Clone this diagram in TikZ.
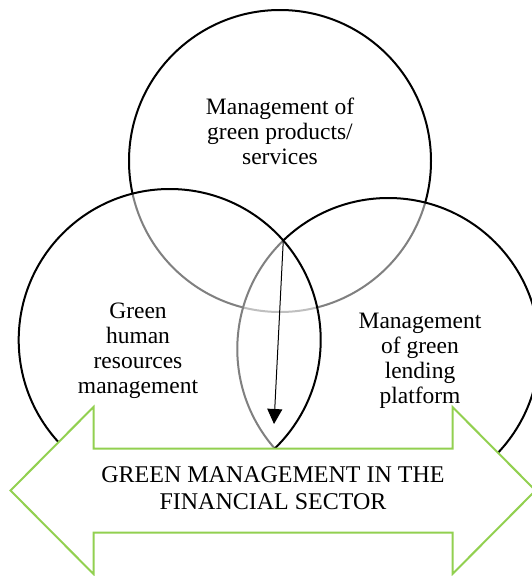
\documentclass[tikz,border=0pt]{standalone}
\usepackage{fontspec}
\setmainfont{Liberation Serif}
\usetikzlibrary{arrows.meta}
\definecolor{bannergreen}{HTML}{92D050}
\begin{document}
\begin{tikzpicture}[x=1pt,y=-1pt,
  venn/.style={circle, draw=black, line width=2pt, fill=white, fill opacity=0.5,
    draw opacity=1, minimum size=302pt, inner sep=0pt, outer sep=0pt},
  vennlabel/.style={align=center, anchor=base, inner sep=0pt,
    font=\fontsize{23.5}{24.7}\selectfont},
  bannerlabel/.style={align=center, anchor=base, inner sep=0pt,
    font=\fontsize{24}{27}\selectfont},
  banner/.style={draw=bannergreen, line width=2pt, fill=white, line join=miter},
  pointer/.style={line width=1pt, -{Triangle[length=15pt,width=15pt]}}
]
\useasboundingbox (0,0) rectangle (532,576);
% circles (order gives the grey arcs under the translucent fills)
\node[venn] (products) at (280,161) {};
\node[venn] (lending) at (388.3,349) {};
\node[venn] (hr) at (169.7,340) {};
% banner double arrow
\coordinate (ltip) at (10.5,490.5);
\coordinate (ulc) at (93.5,407);
\coordinate (stl) at (93.5,448.7);
\coordinate (str) at (452.5,448.7);
\coordinate (urc) at (452.5,407);
\coordinate (rtip) at (535.5,490.5);
\coordinate (lrc) at (452.5,574);
\coordinate (sbr) at (452.5,532.7);
\coordinate (sbl) at (93.5,532.7);
\coordinate (llc) at (93.5,574);
\draw[banner] (ltip) -- (ulc) -- (stl) -- (str) -- (urc) -- (rtip) -- (lrc)
  -- (sbr) -- (sbl) -- (llc) -- cycle;
% pointer from the lens top
\coordinate (lenstop) at (283.3,240.2);
\coordinate (pointertip) at (274,424);
\draw[pointer] (lenstop) -- (pointertip);
% labels (base anchor = baseline of the last line)
\node[vennlabel] (tproducts) at (280,164) {Management of\\green products/\\services};
\node[vennlabel] (thr) at (138,393) {Green\\human\\resources\\management};
\node[vennlabel] (tlending) at (420,403) {Management\\of green\\lending\\platform};
\node[bannerlabel] (tbanner) at (273,509) {GREEN MANAGEMENT IN THE\\FINANCIAL SECTOR};
\end{tikzpicture}
\end{document}
